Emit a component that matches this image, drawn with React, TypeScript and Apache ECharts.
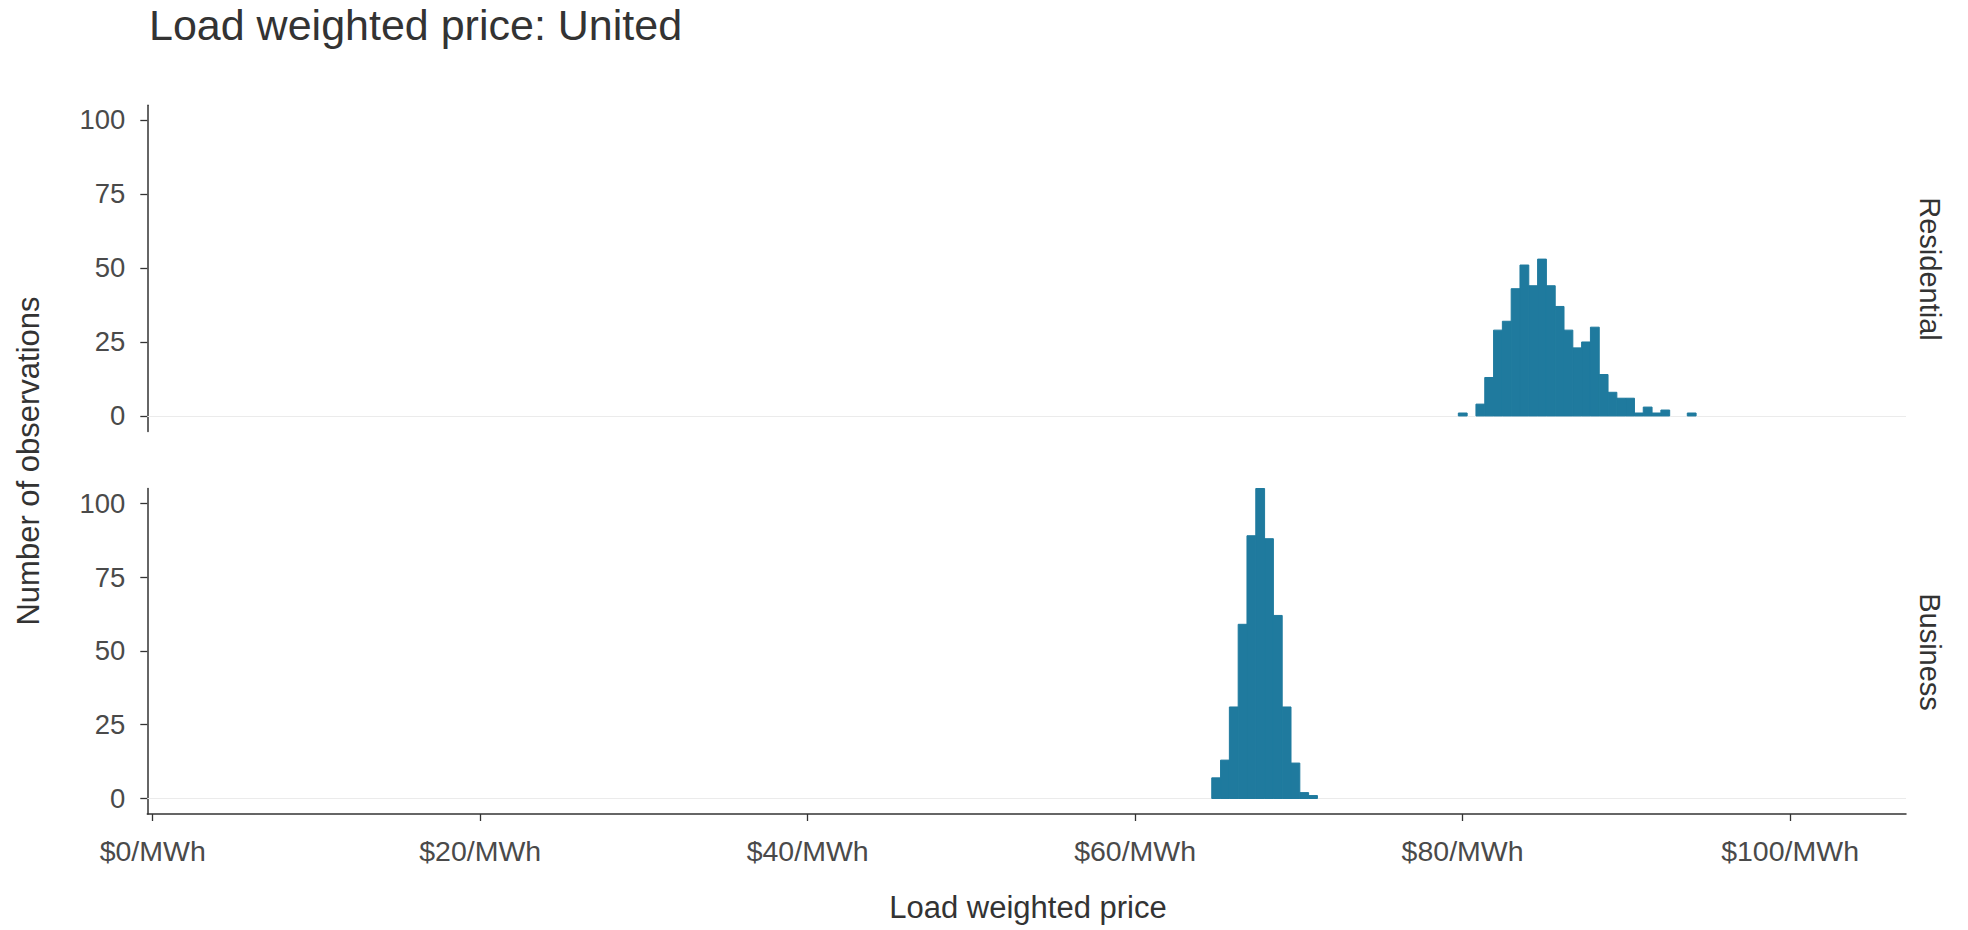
import React, { useEffect, useRef } from "react";
import * as echarts from "echarts";

// ---- data ----
const panels = ["Residential", "Business"];
const binWidth = 0.5378; // $/MWh per histogram bin
const residentialFirstBin = 79.74;
const residentialCounts = [1, 0, 4, 13, 29, 32, 43, 51, 44, 53, 44, 37, 29, 23, 25, 30, 14, 8, 6, 6, 1, 3, 1, 2, 0, 0, 1];
const businessFirstBin = 64.68;
const businessCounts = [7, 13, 31, 59, 89, 105, 88, 62, 31, 12, 2, 1];
const xTicks = [0, 20, 40, 60, 80, 100];
const yTicks = [0, 25, 50, 75, 100];
const xMin = -0.33;
const xMax = 107.08;
const yMin = -5.25;
const yMax = 105;

const FONT = "'Liberation Sans', Arial, sans-serif";
const BAR = "#1f7a9e";
const AXIS = "#333333";
const LABEL = "#4a4a4a";

function bins(first: number, counts: number[]) {
  return counts.map((c, i) => [first + i * binWidth, first + (i + 1) * binWidth, c]);
}

const renderBar = (params: any, api: any) => {
  const c = api.value(2);
  if (!c) return null;
  const p0 = api.coord([api.value(0), c]);
  const p1 = api.coord([api.value(1), 0]);
  return {
    type: "rect",
    shape: { x: p0[0], y: p0[1], width: p1[0] - p0[0], height: p1[1] - p0[1] },
    style: { fill: BAR, stroke: BAR, lineWidth: 1 },
  };
};

export default function App() {
  const ref = useRef<HTMLDivElement>(null);
  useEffect(() => {
    if (!ref.current) return;
    const chart = echarts.init(ref.current, undefined, { renderer: "svg" });
    const grids = [
      { left: 147.3, top: 105.2, width: 1758.7, height: 326.3 },
      { left: 147.3, top: 488.5, width: 1758.7, height: 325.5 },
    ];
    const yAxisCommon = (gi: number) => ({
      type: "value",
      gridIndex: gi,
      min: yMin,
      max: yMax,
      axisLine: { show: true, onZero: false, lineStyle: { color: AXIS, width: 1.5 } },
      axisTick: { show: true, length: 7, customValues: yTicks, lineStyle: { color: AXIS, width: 1.3 } },
      axisLabel: {
        show: true,
        customValues: yTicks,
        margin: 22,
        fontSize: 27.5,
        fontFamily: FONT,
        color: LABEL,
      },
      splitLine: { show: false },
    });
    const seriesData = [bins(residentialFirstBin, residentialCounts), bins(businessFirstBin, businessCounts)];
    chart.setOption({
      animation: false,
      backgroundColor: "#ffffff",
      grid: grids,
      xAxis: [
        { type: "value", gridIndex: 0, min: xMin, max: xMax, show: false },
        {
          type: "value",
          gridIndex: 1,
          min: xMin,
          max: xMax,
          axisLine: { show: true, onZero: false, lineStyle: { color: AXIS, width: 1.5 } },
          axisTick: { show: true, length: 7, customValues: xTicks, lineStyle: { color: AXIS, width: 1.3 } },
          axisLabel: {
            show: true,
            customValues: xTicks,
            margin: 22.5,
            fontSize: 28.5,
            fontFamily: FONT,
            color: LABEL,
            formatter: (v: number) => `$${v}/MWh`,
          },
          splitLine: { show: false },
        },
      ],
      yAxis: [yAxisCommon(0), yAxisCommon(1)],
      series: panels.map((name, i) => ({
        type: "custom",
        name,
        xAxisIndex: i,
        yAxisIndex: i,
        renderItem: renderBar,
        encode: { x: [0, 1], y: 2 },
        data: seriesData[i],
        z: 3,
        markLine: {
          silent: true,
          symbol: "none",
          z: 1,
          label: { show: false },
          lineStyle: { color: "#ebebeb", width: 1, type: "solid" },
          data: [{ yAxis: 0 }],
        },
      })),
      graphic: [
        {
          type: "text",
          x: 149,
          y: 25,
          style: {
            text: "Load weighted price: United",
            fontSize: 43,
            fontFamily: FONT,
            fill: "#333333",
            textAlign: "left",
            textVerticalAlign: "middle",
          },
        },
        {
          type: "text",
          x: 28,
          y: 461,
          rotation: Math.PI / 2,
          style: {
            text: "Number of observations",
            fontSize: 31,
            fontFamily: FONT,
            fill: "#333333",
            textAlign: "center",
            textVerticalAlign: "middle",
          },
        },
        {
          type: "text",
          x: 1028,
          y: 907,
          style: {
            text: "Load weighted price",
            fontSize: 31,
            fontFamily: FONT,
            fill: "#333333",
            textAlign: "center",
            textVerticalAlign: "middle",
          },
        },
        ...panels.map((name, i) => ({
          type: "text",
          x: 1930,
          y: i === 0 ? 269 : 652,
          rotation: -Math.PI / 2,
          style: {
            text: name,
            fontSize: 29,
            fontFamily: FONT,
            fill: "#333333",
            textAlign: "center",
            textVerticalAlign: "middle",
          },
        })),
      ],
    });
    return () => chart.dispose();
  }, []);
  return (
    <div
      ref={ref}
      style={{ position: "absolute", left: 0, top: 0, width: 1968, height: 930, background: "#fff" }}
    />
  );
}
